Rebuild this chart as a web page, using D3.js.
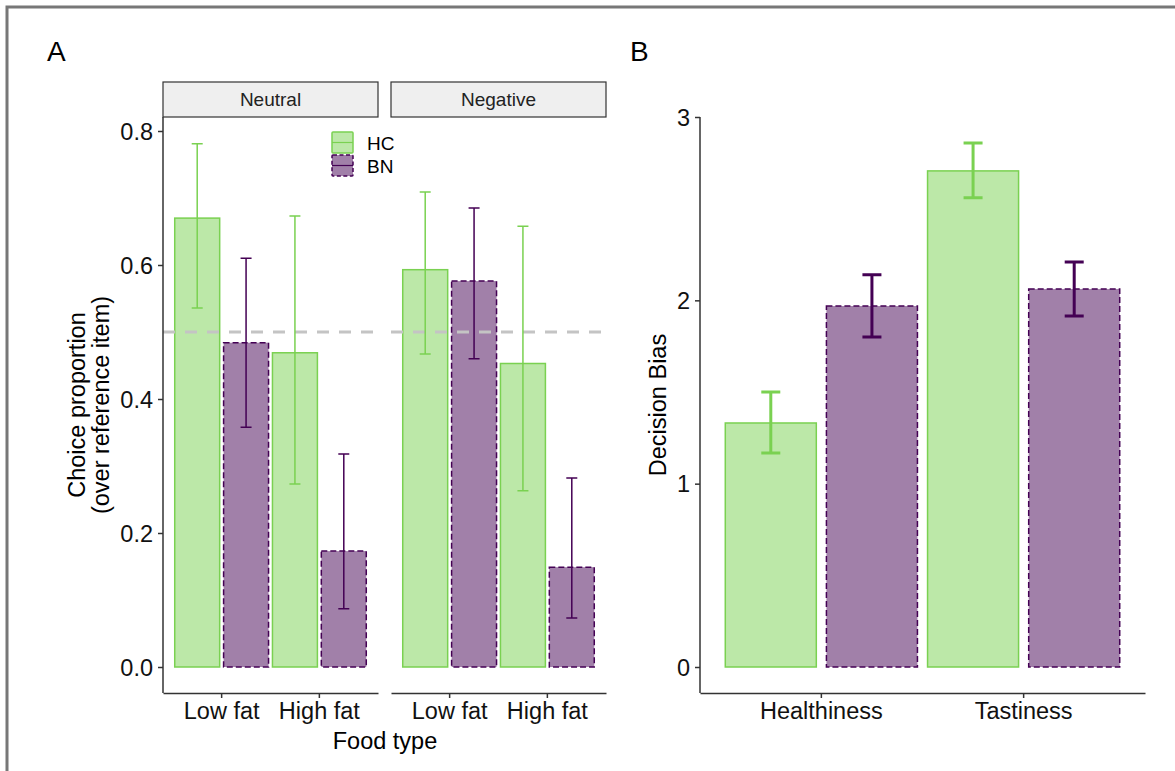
<!DOCTYPE html>
<html lang="en">
<head>
<meta charset="UTF-8">
<title>Choice proportion and decision bias</title>
<script src="https://d3js.org/d3.v7.min.js"></script>
<style>
    body { margin: 0; background: #fff; }
    svg { display: block; font-family: Arial, 'Liberation Sans', sans-serif; }
    .axis path, .axis line { stroke: #333; stroke-width: 1.5px; }
    .axis text { font-size: 23.5px; fill: #111; }
</style>
</head>
<body>
<div id="chart"></div>
<script>
    // panel A: choice proportion by valence x food type
    const valences = ["Neutral", "Negative"];
    const foodTypes = ["Low fat", "High fat"];
    const groups = ["HC", "BN"];
    const hcChoice = [[0.670, 0.469], [0.593, 0.453]];
    const hcChoiceLow = [[0.536, 0.273], [0.467, 0.263]];
    const hcChoiceHigh = [[0.781, 0.673], [0.709, 0.658]];
    const bnChoice = [[0.484, 0.173], [0.576, 0.149]];
    const bnChoiceLow = [[0.358, 0.087], [0.460, 0.073]];
    const bnChoiceHigh = [[0.610, 0.318], [0.685, 0.282]];
    const choiceTicks = [0, 0.2, 0.4, 0.6, 0.8];

    // panel B: decision bias by attribute
    const attributes = ["Healthiness", "Tastiness"];
    const hcBias = [1.331, 2.706];
    const hcBiasLow = [1.167, 2.559];
    const hcBiasHigh = [1.500, 2.858];
    const bnBias = [1.969, 2.062];
    const bnBiasLow = [1.800, 1.915];
    const bnBiasHigh = [2.139, 2.209];
    const biasTicks = [0, 1, 2, 3];

    const colors = { HC: "#7ad151", BN: "#440154" };
    const dashes = { HC: null, BN: "6,3" };

    const width = 1175, height = 771;
    const svg = d3.select("#chart").append("svg")
        .attr("width", width)
        .attr("height", height);

    // frame (only top and left edges are visible in the crop)
    svg.append("path")
        .attr("d", "M7,771 V7 H1175")
        .attr("fill", "none")
        .attr("stroke", "#777")
        .attr("stroke-width", 3);

    const panelTop = 117, panelBottom = 693;

    // ---------- panel A ----------
    let yA = d3.scaleLinear().domain([0, 0.8]).range([667, 131]);
    let facetX = [[163, 378], [391, 606]];

    svg.append("text").attr("x", 47).attr("y", 61)
        .style("font-size", "28px").text("A");

    valences.forEach((valence, vi) => {
        let x = d3.scaleBand().domain(foodTypes).range(facetX[vi])
            .paddingInner(0).paddingOuter(0.1);
        let xs = d3.scaleBand().domain(groups).range([0, x.bandwidth()])
            .paddingInner(0.08).paddingOuter(0.04);

        // strip
        svg.append("rect")
            .attr("x", facetX[vi][0]).attr("y", 82)
            .attr("width", facetX[vi][1] - facetX[vi][0]).attr("height", 35)
            .attr("fill", "#efefef").attr("stroke", "#333").attr("stroke-width", 1.2);
        svg.append("text")
            .attr("x", (facetX[vi][0] + facetX[vi][1]) / 2).attr("y", 106)
            .attr("text-anchor", "middle")
            .style("font-size", "19px").style("fill", "#222")
            .text(valence);

        let g = svg.append("g");

        let rows = [];
        foodTypes.forEach((food, fi) => {
            rows.push({ group: "HC", food, value: hcChoice[vi][fi], lo: hcChoiceLow[vi][fi], hi: hcChoiceHigh[vi][fi] });
            rows.push({ group: "BN", food, value: bnChoice[vi][fi], lo: bnChoiceLow[vi][fi], hi: bnChoiceHigh[vi][fi] });
        });

        g.selectAll(".bar").data(rows).enter().append("rect")
            .attr("x", d => x(d.food) + xs(d.group))
            .attr("y", d => yA(d.value))
            .attr("width", xs.bandwidth())
            .attr("height", d => yA(0) - yA(d.value))
            .attr("fill", d => colors[d.group]).attr("fill-opacity", 0.5)
            .attr("stroke", d => colors[d.group]).attr("stroke-width", 1.5)
            .attr("stroke-dasharray", d => dashes[d.group]);

        // reference line at 0.5
        g.append("line")
            .attr("x1", facetX[vi][0]).attr("x2", facetX[vi][1])
            .attr("y1", yA(0.5)).attr("y2", yA(0.5))
            .attr("stroke", "#c4c4c4").attr("stroke-width", 3)
            .attr("stroke-dasharray", "12,10");

        let cx = d => x(d.food) + xs(d.group) + xs.bandwidth() / 2;
        g.selectAll(".err").data(rows).enter().append("path")
            .attr("d", d => `M${cx(d) - 5.5},${yA(d.hi)}H${cx(d) + 5.5}M${cx(d)},${yA(d.hi)}V${yA(d.lo)}M${cx(d) - 5.5},${yA(d.lo)}H${cx(d) + 5.5}`)
            .attr("fill", "none")
            .attr("stroke", d => colors[d.group]).attr("stroke-width", 1.5);

        svg.append("g").attr("class", "axis xaxis")
            .attr("transform", `translate(0,${panelBottom})`)
            .call(d3.axisBottom(x).tickSize(5).tickPadding(4).tickSizeOuter(0));

        if (vi === 0) {
            let ax = svg.append("g").attr("class", "axis yaxis")
                .attr("transform", `translate(${facetX[0][0]},0)`)
                .call(d3.axisLeft(yA).tickValues(choiceTicks).tickFormat(d3.format(".1f"))
                    .tickSize(5).tickPadding(5).tickSizeOuter(0));
            ax.select(".domain").attr("d", `M0,${panelTop}V${panelBottom}`);
        }
    });

    svg.append("text")
        .attr("transform", `translate(77,405) rotate(-90)`)
        .attr("text-anchor", "middle").attr("dy", "0.35em")
        .style("font-size", "23.5px").text("Choice proportion");
    svg.append("text")
        .attr("transform", `translate(101,405) rotate(-90)`)
        .attr("text-anchor", "middle").attr("dy", "0.35em")
        .style("font-size", "23.5px").text("(over reference item)");
    svg.append("text")
        .attr("x", 385).attr("y", 749).attr("text-anchor", "middle")
        .style("font-size", "23.5px").text("Food type");

    // legend
    let legend = svg.append("g").attr("transform", "translate(332,132)");
    groups.forEach((grp, i) => {
        let lg = legend.append("g").attr("transform", `translate(0,${i * 23})`);
        lg.append("rect").attr("width", 21).attr("height", 21).attr("rx", 1)
            .attr("fill", colors[grp]).attr("fill-opacity", 0.5)
            .attr("stroke", colors[grp]).attr("stroke-width", 1.5)
            .attr("stroke-dasharray", dashes[grp] ? "4,2.5" : null);
        lg.append("line").attr("x1", 0).attr("x2", 21).attr("y1", 10.5).attr("y2", 10.5)
            .attr("stroke", colors[grp]).attr("stroke-width", 1.2);
        lg.append("text").attr("x", 35).attr("y", 11).attr("dy", "0.35em")
            .style("font-size", "19px").text(grp);
    });

    // ---------- panel B ----------
    let yB = d3.scaleLinear().domain([0, 3]).range([667, 117]);
    let xB = d3.scaleBand().domain(attributes).range([700, 1145])
        .paddingInner(0).paddingOuter(0.1);
    let xsB = d3.scaleBand().domain(groups).range([0, xB.bandwidth()])
        .paddingInner(0.1).paddingOuter(0.05);

    svg.append("text").attr("x", 630).attr("y", 61)
        .style("font-size", "28px").text("B");

    let rowsB = [];
    attributes.forEach((attr, ai) => {
        rowsB.push({ group: "HC", attr, value: hcBias[ai], lo: hcBiasLow[ai], hi: hcBiasHigh[ai] });
        rowsB.push({ group: "BN", attr, value: bnBias[ai], lo: bnBiasLow[ai], hi: bnBiasHigh[ai] });
    });

    let gB = svg.append("g");
    gB.selectAll(".bar").data(rowsB).enter().append("rect")
        .attr("x", d => xB(d.attr) + xsB(d.group))
        .attr("y", d => yB(d.value))
        .attr("width", xsB.bandwidth())
        .attr("height", d => yB(0) - yB(d.value))
        .attr("fill", d => colors[d.group]).attr("fill-opacity", 0.5)
        .attr("stroke", d => colors[d.group]).attr("stroke-width", 1.5)
        .attr("stroke-dasharray", d => dashes[d.group]);

    let cxB = d => xB(d.attr) + xsB(d.group) + xsB.bandwidth() / 2;
    gB.selectAll(".err").data(rowsB).enter().append("path")
        .attr("d", d => `M${cxB(d) - 9.5},${yB(d.hi)}H${cxB(d) + 9.5}M${cxB(d)},${yB(d.hi)}V${yB(d.lo)}M${cxB(d) - 9.5},${yB(d.lo)}H${cxB(d) + 9.5}`)
        .attr("fill", "none")
        .attr("stroke", d => colors[d.group]).attr("stroke-width", 3);

    let axB = svg.append("g").attr("class", "axis yaxis")
        .attr("transform", "translate(700,0)")
        .call(d3.axisLeft(yB).tickValues(biasTicks).tickFormat(d3.format("d"))
            .tickSize(5).tickPadding(5).tickSizeOuter(0));
    axB.select(".domain").attr("d", `M0,${panelTop}V${panelBottom}`);

    svg.append("g").attr("class", "axis xaxis")
        .attr("transform", `translate(0,${panelBottom})`)
        .call(d3.axisBottom(xB).tickSize(5).tickPadding(4).tickSizeOuter(0));

    svg.selectAll(".xaxis .tick text").attr("dy", null).attr("dominant-baseline", "hanging");
    svg.selectAll(".yaxis .tick text").attr("dy", null).attr("dominant-baseline", "central");

    svg.append("text")
        .attr("transform", `translate(658,405) rotate(-90)`)
        .attr("text-anchor", "middle").attr("dy", "0.35em")
        .style("font-size", "23.5px").text("Decision Bias");
</script>
</body>
</html>
